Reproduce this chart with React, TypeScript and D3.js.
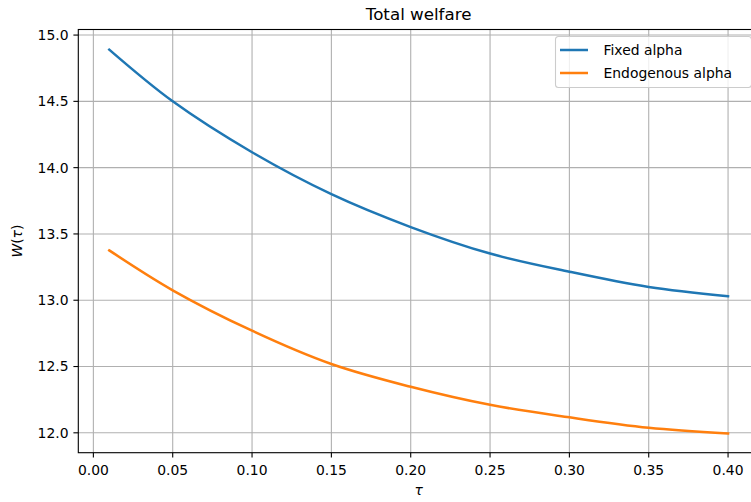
import React from 'react';
import * as d3 from 'd3';

// values
const tau = [0.01, 0.05, 0.1, 0.15, 0.2, 0.25, 0.3, 0.35, 0.4];
const fixedAlpha = [14.89, 14.5, 14.116, 13.8, 13.552, 13.352, 13.215, 13.1, 13.03];
const endogenousAlpha = [13.376, 13.075, 12.77, 12.519, 12.347, 12.211, 12.117, 12.038, 11.995];
const xTicks = [0, 0.05, 0.1, 0.15, 0.2, 0.25, 0.3, 0.35, 0.4];
const yTicks = [12.0, 12.5, 13.0, 13.5, 14.0, 14.5, 15.0];
const seriesNames = ['Fixed alpha', 'Endogenous alpha'];
const seriesColors = ['#1f77b4', '#ff7f0e'];

const W = 751;
const H = 502;
const margin = { top: 29.5, right: -8, bottom: 49.3, left: 78.3 };
const font = 'DejaVu Sans, sans-serif';

export default function App() {
  const innerW = W - margin.left - margin.right;
  const innerH = H - margin.top - margin.bottom;

  const x = d3.scaleLinear().domain([-0.0095, 0.4195]).range([0, innerW]);
  const y = d3.scaleLinear().domain([11.85, 15.042]).range([innerH, 0]);

  const line = d3
    .line<number>()
    .x((_, i) => x(tau[i]))
    .y((d) => y(d))
    .curve(d3.curveCatmullRom.alpha(0.5));

  const series = [fixedAlpha, endogenousAlpha];

  return (
    <svg
      width={W}
      height={H}
      style={{ position: 'absolute', left: 0, top: 0, background: '#fff' }}
      fontFamily={font}
    >
      <text x={margin.left + innerW / 2} y={20} textAnchor="middle" fontSize={16.7} fill="#000">
        Total welfare
      </text>
      <g transform={`translate(${margin.left},${margin.top})`}>
        {/* grid */}
        {xTicks.map((t) => (
          <line key={'gx' + t} x1={x(t)} x2={x(t)} y1={0} y2={innerH} stroke="#b0b0b0" strokeWidth={1.1} />
        ))}
        {yTicks.map((t) => (
          <line key={'gy' + t} x1={0} x2={innerW} y1={y(t)} y2={y(t)} stroke="#b0b0b0" strokeWidth={1.1} />
        ))}

        {/* lines */}
        {series.map((s, i) => (
          <path key={i} d={line(s) || ''} fill="none" stroke={seriesColors[i]} strokeWidth={2.5} strokeLinecap="square" />
        ))}

        {/* spines */}
        <rect x={0} y={0} width={innerW} height={innerH} fill="none" stroke="#000" strokeWidth={1.1} />

        {/* x ticks */}
        {xTicks.map((t) => (
          <g key={'tx' + t} transform={`translate(${x(t)},${innerH})`}>
            <line y1={0} y2={4.9} stroke="#000" strokeWidth={1.1} />
            <text y={22} textAnchor="middle" fontSize={13.9} fill="#000">
              {d3.format('.2f')(t)}
            </text>
          </g>
        ))}

        {/* y ticks */}
        {yTicks.map((t) => (
          <g key={'ty' + t} transform={`translate(0,${y(t)})`}>
            <line x1={0} x2={-4.9} stroke="#000" strokeWidth={1.1} />
            <text x={-9.8} dy="0.35em" textAnchor="end" fontSize={13.9} fill="#000">
              {d3.format('.1f')(t)}
            </text>
          </g>
        ))}

        {/* legend */}
        <g transform={`translate(${innerW - 203.5},7)`}>
          <rect x={0} y={0} width={196} height={51} rx={3} fill="#fff" fillOpacity={0.8} stroke="#cccccc" strokeWidth={1.1} />
          {seriesNames.map((name, i) => (
            <g key={name} transform={`translate(0,${13.5 + i * 23})`}>
              <line x1={4.5} x2={32.5} y1={0} y2={0} stroke={seriesColors[i]} strokeWidth={2.5} />
              <text x={48} dy="0.35em" fontSize={13.9} fill="#000">
                {name}
              </text>
            </g>
          ))}
        </g>
      </g>

      {/* axis labels */}
      <text x={margin.left + innerW / 2} y={495} textAnchor="middle" fontSize={13.9} fontStyle="italic" fill="#000">
        τ
      </text>
      <text transform={`translate(22,${margin.top + innerH / 2}) rotate(-90)`} textAnchor="middle" fontSize={13.9} fill="#000">
        <tspan fontStyle="italic">W</tspan>
        <tspan>(</tspan>
        <tspan fontStyle="italic">τ</tspan>
        <tspan>)</tspan>
      </text>
    </svg>
  );
}
